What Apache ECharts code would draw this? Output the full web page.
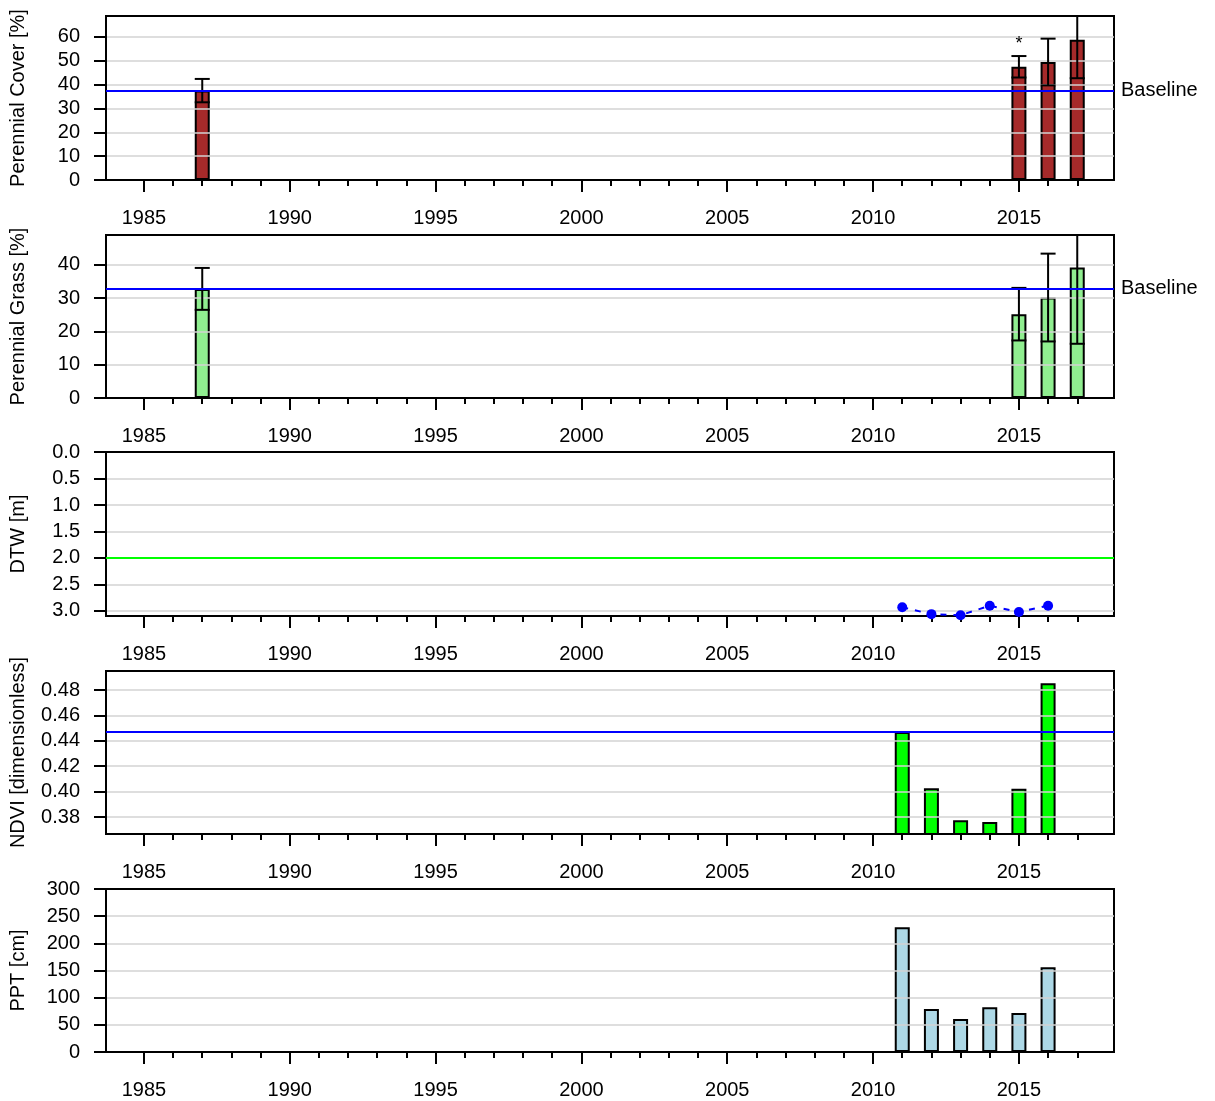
<!DOCTYPE html>
<html>
<head>
<meta charset="utf-8">
<script src="https://cdn.jsdelivr.net/npm/echarts@6/dist/echarts.min.js"></script>
<style>
html,body{margin:0;padding:0;background:#fff;}
#chart{width:1215px;height:1101px;}
</style>
</head>
<body>
<div id="chart"></div>
<script>
// ---- data ----
const surveyYears = [1987, 2015, 2016, 2017];
const coverMean = [37.5, 47.5, 49.5, 58.8];
const coverErr = [4.9, 4.5, 9.8, 16.1];
const coverSig = ['', '*', '', ''];
const coverBaseline = 37.4;

const grassMean = [32.8, 25.2, 30.2, 39.2];
const grassErr = [6.3, 7.9, 13.2, 22.9];
const grassSig = ['', '', '', ''];
const grassBaseline = 32.8;

const annualYears = [2011, 2012, 2013, 2014, 2015, 2016];
const dtwValues = [2.93, 3.06, 3.08, 2.90, 3.02, 2.90];
const dtwThreshold = 2.0;

const ndviValues = [0.447, 0.4026, 0.3774, 0.3761, 0.4023, 0.4853];
const ndviBaseline = 0.447;

const pptValues = [229.5, 79.1, 60.7, 82.3, 71.8, 155.9];

const majorYears = [1985, 1990, 1995, 2000, 2005, 2010, 2015];
const minorYears = [];
for (let y = 1985; y <= 2017; y++) minorYears.push(y);

const coverTicks = [0, 10, 20, 30, 40, 50, 60];
const grassTicks = [0, 10, 20, 30, 40];
const dtwTicks = [0, 0.5, 1.0, 1.5, 2.0, 2.5, 3.0];
const ndviTicks = [0.38, 0.40, 0.42, 0.44, 0.46, 0.48];
const pptTicks = [0, 50, 100, 150, 200, 250, 300];

const yNames = ['Perennial Cover [%]', 'Perennial Grass [%]', 'DTW [m]', 'NDVI [dimensionless]', 'PPT [cm]'];

// ---- layout ----
const FONT = '"Liberation Sans", Arial, Helvetica, sans-serif';
const FS = 20;
const tops = [16, 235, 452, 671, 889];
const heights = [164, 163, 164, 163, 163];
const XMIN = 1983.7, XMAX = 2018.26;

const grids = tops.map((t, i) => ({
  left: 106, width: 1008, top: t, height: heights[i],
  show: true, borderColor: '#000', borderWidth: 2, backgroundColor: 'transparent'
}));

const xAxes = [];
for (let i = 0; i < 5; i++) {
  xAxes.push({
    type: 'value', gridIndex: i, min: XMIN, max: XMAX, position: 'bottom', z: 3,
    axisLine: { show: true, onZero: false, lineStyle: { color: '#000', width: 2 } },
    axisTick: { show: true, customValues: majorYears, length: 12, lineStyle: { color: '#000', width: 2 } },
    axisLabel: { show: true, customValues: majorYears, margin: 28, color: '#000', fontSize: FS, fontFamily: FONT,
      formatter: v => String(v) },
    splitLine: { show: false }
  });
  xAxes.push({
    type: 'value', gridIndex: i, min: XMIN, max: XMAX, position: 'bottom', z: 3,
    axisLine: { show: false, onZero: false },
    axisTick: { show: true, customValues: minorYears, length: 6, lineStyle: { color: '#000', width: 2 } },
    axisLabel: { show: false },
    splitLine: { show: false }
  });
  xAxes.push({
    type: 'value', gridIndex: i, min: XMIN, max: XMAX, position: 'top', z: 3,
    axisLine: { show: true, onZero: false, lineStyle: { color: '#000', width: 2 } },
    axisTick: { show: false },
    axisLabel: { show: false },
    splitLine: { show: false }
  });
}

function yAxis(i, min, max, ticks, fmt, inverse) {
  return {
    type: 'value', gridIndex: i, min: min, max: max, inverse: !!inverse, z: 3,
    name: yNames[i], nameLocation: 'middle', nameGap: 78, nameRotate: 90,
    nameTextStyle: { color: '#000', fontSize: FS, fontFamily: FONT },
    axisLine: { show: true, onZero: false, lineStyle: { color: '#000', width: 2 } },
    axisTick: { show: true, customValues: ticks, length: 12, lineStyle: { color: '#000', width: 2 } },
    axisLabel: { show: true, customValues: ticks, margin: 26, color: '#000', fontSize: FS, fontFamily: FONT, formatter: fmt },
    splitLine: { show: true, lineStyle: { color: '#d3d3d3', width: 1.5 } }
  };
}

const yAxes = [
  yAxis(0, 0, 68.8, coverTicks, v => String(Math.round(v))),
  yAxis(1, 0, 49.0, grassTicks, v => String(Math.round(v))),
  yAxis(2, 0, 3.095, dtwTicks, v => Number(v).toFixed(1), true),
  yAxis(3, 0.3666, 0.495, ndviTicks, v => Number(v).toFixed(2)),
  yAxis(4, 0, 300, pptTicks, v => String(Math.round(v)))
];

function pairs(xs, ys) { return xs.map((x, k) => [x, ys[k]]); }

function baselineMark(val, color, withLabel) {
  return {
    silent: true, symbol: ['none', 'none'], animation: false, precision: 5,
    lineStyle: { color: color, width: 2, type: 'solid' },
    label: withLabel ? { show: true, position: 'end', formatter: 'Baseline', color: '#000', fontSize: FS, fontFamily: FONT, distance: 7 } : { show: false },
    data: [{ yAxis: val }],
    z: 10
  };
}

function barSeries(i, xs, ys, color, mark) {
  return {
    type: 'bar', xAxisIndex: 3 * i, yAxisIndex: i, data: pairs(xs, ys),
    barWidth: 15, clip: true, animation: false,
    itemStyle: { color: color, borderColor: '#000', borderWidth: 2 },
    markLine: mark
  };
}

function errSeries(i, xs, means, errs, sigs) {
  return {
    type: 'custom', xAxisIndex: 3 * i, yAxisIndex: i, clip: true, animation: false, z: 5,
    data: xs.map((x, k) => [x, means[k], errs[k]]),
    renderItem: function (params, api) {
      const x = api.value(0), m = api.value(1), e = api.value(2);
      const sig = sigs[params.dataIndex];
      const hi = api.coord([x, m + e]);
      const lo = api.coord([x, m - e]);
      const hw = 7.5;
      const st = { stroke: '#000', lineWidth: 2 };
      const children = [
        { type: 'line', shape: { x1: hi[0], y1: hi[1], x2: lo[0], y2: lo[1] }, style: st },
        { type: 'line', shape: { x1: hi[0] - hw, y1: hi[1], x2: hi[0] + hw, y2: hi[1] }, style: st },
        { type: 'line', shape: { x1: lo[0] - hw, y1: lo[1], x2: lo[0] + hw, y2: lo[1] }, style: st }
      ];
      if (sig) {
        children.push({ type: 'text', x: hi[0], y: hi[1] - 3,
          style: { text: sig, fill: '#000', fontSize: 18, fontFamily: FONT, align: 'center', verticalAlign: 'bottom' } });
      }
      return { type: 'group', children: children };
    }
  };
}

const series = [
  barSeries(0, surveyYears, coverMean, '#a52a2a', baselineMark(coverBaseline, '#0000ff', true)),
  errSeries(0, surveyYears, coverMean, coverErr, coverSig),
  barSeries(1, surveyYears, grassMean, '#90ee90', baselineMark(grassBaseline, '#0000ff', true)),
  errSeries(1, surveyYears, grassMean, grassErr, grassSig),
  {
    type: 'line', xAxisIndex: 6, yAxisIndex: 2, data: pairs(annualYears, dtwValues),
    symbol: 'circle', symbolSize: 10, clip: true, animation: false,
    itemStyle: { color: '#0000ff' },
    lineStyle: { color: '#0000ff', width: 2, type: [6, 7] },
    markLine: baselineMark(dtwThreshold, '#00ff00', false)
  },
  barSeries(3, annualYears, ndviValues, '#00ff00', baselineMark(ndviBaseline, '#0000ff', false)),
  barSeries(4, annualYears, pptValues, '#add8e6', null)
];

const chart = echarts.init(document.getElementById('chart'), null, { renderer: 'canvas' });
chart.setOption({
  animation: false,
  backgroundColor: '#fff',
  textStyle: { fontFamily: FONT },
  grid: grids,
  xAxis: xAxes,
  yAxis: yAxes,
  series: series
});
</script>
</body>
</html>
